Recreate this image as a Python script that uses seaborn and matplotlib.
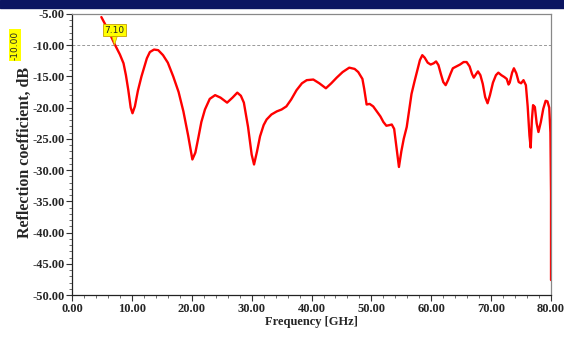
import numpy as np
import pandas as pd
import matplotlib
matplotlib.use("Agg")
import matplotlib.pyplot as plt
from matplotlib.patches import Rectangle
from matplotlib.ticker import MultipleLocator, FormatStrFormatter
import matplotlib.transforms as mtransforms
import seaborn as sns

# Reflection coefficient
freq = [4.9, 6.0, 7.1, 8.0, 8.6, 9.0, 9.4, 9.8, 10.1, 10.5, 11.0, 11.6, 12.5, 13.0,
        13.7, 14.4, 15.2, 16.0, 16.9, 17.8, 18.6, 19.4, 20.1, 20.6, 21.1, 21.6, 22.2,
        23.0, 23.9, 24.8, 25.9, 26.8, 27.6, 28.2, 28.7, 29.4, 30.0, 30.4, 30.9, 31.4,
        32.0, 32.5, 33.3, 34.2, 35.0, 35.8, 36.6, 37.5, 38.4, 39.2, 40.3, 41.3, 42.4,
        43.3, 44.2, 45.2, 46.3, 47.2, 47.8, 48.5, 48.8, 49.2, 49.7, 50.3, 50.9, 51.5,
        52.0, 52.5, 53.0, 53.4, 53.8, 54.2, 54.6, 55.0, 55.4, 55.9, 56.3, 56.7, 57.2,
        57.7, 58.1, 58.5, 58.9, 59.4, 59.9, 60.4, 60.8, 61.2, 61.6, 62.0, 62.4, 62.8,
        63.2, 63.6, 64.2, 64.8, 65.4, 65.9, 66.4, 66.8, 67.1, 67.5, 67.8, 68.2, 68.6,
        69.0, 69.4, 69.8, 70.3, 70.8, 71.2, 71.7, 72.2, 72.6, 72.9, 73.1, 73.5, 73.8,
        74.2, 74.6, 75.0, 75.4, 75.8, 76.1, 76.4, 76.6, 76.8, 77.0, 77.3, 77.6, 77.9,
        78.3, 78.7, 79.1, 79.4, 79.7, 79.9, 80.0, 80.0]
s11 = [-5.5, -7.5, -9.8, -11.5, -12.9, -14.8, -17.2, -20.0, -20.9, -19.8, -17.3, -15.0,
       -12.1, -11.1, -10.7, -10.8, -11.6, -12.8, -15.0, -17.5, -20.6, -24.5, -28.3, -27.2,
       -24.8, -22.3, -20.3, -18.6, -18.0, -18.4, -19.2, -18.4, -17.6, -18.1, -19.2, -23.1,
       -27.5, -29.1, -27.0, -24.6, -22.8, -21.9, -21.1, -20.6, -20.3, -19.8, -18.7, -17.2,
       -16.1, -15.6, -15.5, -16.1, -16.9, -16.1, -15.2, -14.3, -13.6, -13.8, -14.3, -15.4,
       -17.0, -19.5, -19.4, -19.8, -20.6, -21.4, -22.3, -22.9, -22.8, -22.7, -23.4, -26.5,
       -29.5, -27.0, -25.0, -23.1, -20.5, -17.8, -15.8, -13.9, -12.4, -11.6, -12.0, -12.8,
       -13.1, -12.9, -12.6, -13.2, -14.6, -15.9, -16.4, -15.6, -14.6, -13.7, -13.4, -13.1,
       -12.7, -12.7, -13.4, -14.6, -15.2, -14.6, -14.2, -14.8, -16.2, -18.3, -19.3, -18.0,
       -16.0, -14.8, -14.4, -14.8, -15.1, -15.4, -16.3, -16.0, -14.4, -13.7, -14.5, -15.9,
       -16.1, -15.6, -16.4, -19.8, -24.5, -26.4, -22.0, -19.6, -19.9, -22.5, -23.9, -22.3,
       -20.2, -18.9, -19.0, -20.0, -24.0, -33.7, -47.6]

marker_x = 7.10
level_y = -10.0

df = pd.DataFrame({"Frequency": freq, "S11": s11})

sns.set_style("ticks")
serif = ["Liberation Serif", "DejaVu Serif"]

fig = plt.figure(figsize=(5.64, 3.37), dpi=100)
ax = fig.add_axes([0.1277, 0.1246, 0.8493, 0.834])

# navy band across the top
fig.patches.append(Rectangle((0, 0.976), 1, 0.024, transform=fig.transFigure,
                             color="#0b1561", zorder=0))

sns.lineplot(data=df, x="Frequency", y="S11", sort=False, estimator=None,
             color="#ff0000", linewidth=1.7, ax=ax)

ax.axhline(level_y, color="#999999", linestyle=(0, (3, 2)), linewidth=0.7, zorder=1)

ax.set_xlim(0, 80)
ax.set_ylim(-50, -5)
ax.xaxis.set_major_locator(MultipleLocator(10))
ax.xaxis.set_minor_locator(MultipleLocator(2))
ax.yaxis.set_major_locator(MultipleLocator(5))
ax.yaxis.set_minor_locator(MultipleLocator(1))
ax.xaxis.set_major_formatter(FormatStrFormatter("%.2f"))
ax.yaxis.set_major_formatter(FormatStrFormatter("%.2f"))
ax.tick_params(which="major", direction="out", length=4, width=0.8, color="#333333",
               pad=1.5)
ax.tick_params(which="minor", direction="out", length=2.5, width=0.6, color="#555555")
for lab in ax.get_xticklabels() + ax.get_yticklabels():
    lab.set_fontfamily(serif)
    lab.set_fontweight("bold")
    lab.set_fontsize(9)

ax.set_xlabel("Frequency [GHz]", fontfamily=serif, fontweight="bold", fontsize=9,
              labelpad=1)
ax.set_ylabel("Reflection coefficient, dB", fontfamily=serif, fontweight="bold",
              fontsize=11.5)
ax.yaxis.set_label_coords(-0.081, 0.507)

for side in ["left", "bottom"]:
    ax.spines[side].set_color("#222222")
    ax.spines[side].set_linewidth(0.9)
for side in ["top", "right"]:
    ax.spines[side].set_visible(True)
    ax.spines[side].set_color("#888888")
    ax.spines[side].set_linewidth(0.9)

# marker label at the -10 dB crossing
ax.annotate(f"{marker_x:.2f}", xy=(marker_x, level_y), xytext=(marker_x, -7.6),
            ha="center", va="center", fontsize=6.5, fontfamily="DejaVu Sans",
            bbox=dict(boxstyle="square,pad=0.15", fc="#ffff00", ec="#c8a000", lw=0.6),
            arrowprops=dict(arrowstyle="wedge,tail_width=0.6", fc="#ffff00",
                            ec="#c8a000", lw=0.5, shrinkA=0, shrinkB=0))

# level label on the left
trans = mtransforms.blended_transform_factory(ax.transAxes, ax.transData)
ax.text(-0.119, level_y, f"{level_y:.2f}", transform=trans, rotation=90,
        ha="center", va="center", fontsize=6.5, fontfamily="DejaVu Sans",
        bbox=dict(boxstyle="square,pad=0.15", fc="#ffff00", ec="none"),
        clip_on=False)

fig.savefig("out.png", dpi=100)
